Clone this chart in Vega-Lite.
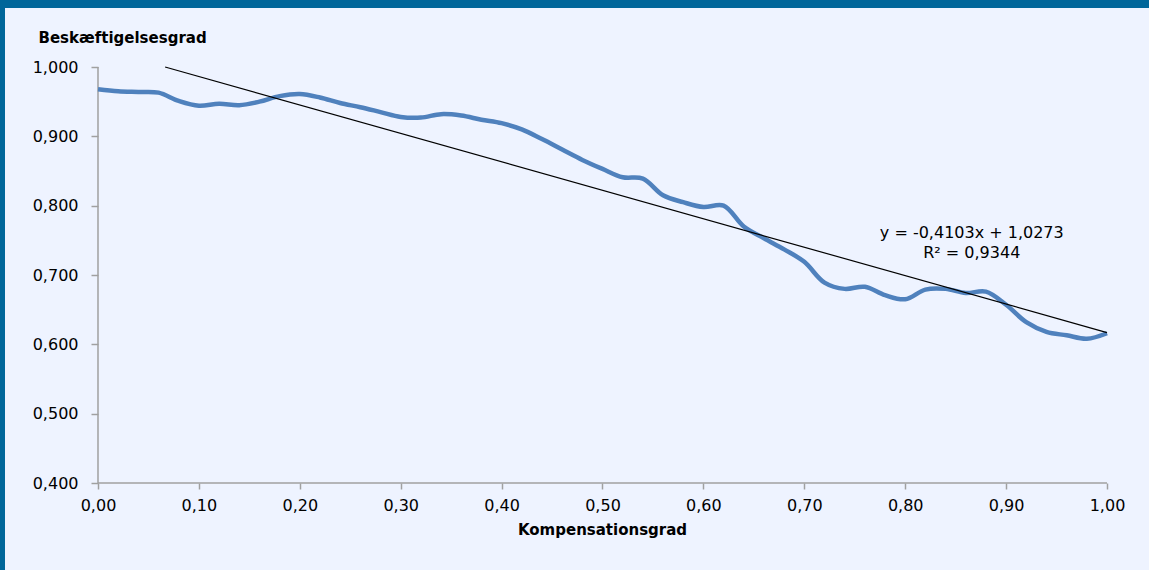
{
  "$schema": "https://vega.github.io/schema/vega-lite/v6.json",
  "autosize": {"type": "none"},
  "padding": {"left": 5, "top": 8, "right": 0, "bottom": 0},
  "width": 1144,
  "height": 562,
  "background": "#00669A",
  "view": {"fill": "#EEF3FF", "stroke": null},
  "config": {"font": "DejaVu Sans"},
  "datasets": {
    "series": [
      {"k": 0.00, "b": 0.968}, {"k": 0.02, "b": 0.965}, {"k": 0.04, "b": 0.964}, {"k": 0.06, "b": 0.963},
      {"k": 0.08, "b": 0.951}, {"k": 0.10, "b": 0.944}, {"k": 0.12, "b": 0.947}, {"k": 0.14, "b": 0.945},
      {"k": 0.16, "b": 0.950}, {"k": 0.18, "b": 0.958}, {"k": 0.20, "b": 0.961}, {"k": 0.22, "b": 0.956},
      {"k": 0.24, "b": 0.948}, {"k": 0.26, "b": 0.942}, {"k": 0.28, "b": 0.935}, {"k": 0.30, "b": 0.928},
      {"k": 0.32, "b": 0.927}, {"k": 0.34, "b": 0.932}, {"k": 0.36, "b": 0.930}, {"k": 0.38, "b": 0.924},
      {"k": 0.40, "b": 0.919}, {"k": 0.42, "b": 0.910}, {"k": 0.44, "b": 0.896}, {"k": 0.46, "b": 0.881},
      {"k": 0.48, "b": 0.866}, {"k": 0.50, "b": 0.853}, {"k": 0.52, "b": 0.841}, {"k": 0.54, "b": 0.839},
      {"k": 0.56, "b": 0.815}, {"k": 0.58, "b": 0.805}, {"k": 0.60, "b": 0.798}, {"k": 0.62, "b": 0.800},
      {"k": 0.64, "b": 0.770}, {"k": 0.66, "b": 0.753}, {"k": 0.68, "b": 0.737}, {"k": 0.70, "b": 0.719},
      {"k": 0.72, "b": 0.689}, {"k": 0.74, "b": 0.680}, {"k": 0.76, "b": 0.683}, {"k": 0.78, "b": 0.671},
      {"k": 0.80, "b": 0.665}, {"k": 0.82, "b": 0.679}, {"k": 0.84, "b": 0.680}, {"k": 0.86, "b": 0.674},
      {"k": 0.88, "b": 0.676}, {"k": 0.90, "b": 0.657}, {"k": 0.92, "b": 0.632}, {"k": 0.94, "b": 0.618},
      {"k": 0.96, "b": 0.613}, {"k": 0.98, "b": 0.608}, {"k": 1.00, "b": 0.616}
    ],
    "trend": [
      {"k": 0.0665, "b": 1.0},
      {"k": 1.0, "b": 0.617}
    ],
    "axislines": [
      {"k": 0, "k2": 0, "b": 0.4, "b2": 1.0},
      {"k": 0, "k2": 1, "b": 0.4, "b2": 0.4}
    ],
    "notes": [
      {"k": 0.866, "b": 0.7534, "label": "y = -0,4103x + 1,0273"},
      {"k": 0.866, "b": 0.7245, "label": "R² = 0,9344"}
    ]
  },
  "layer": [
    {
      "data": {"name": "axislines"},
      "mark": {"type": "rule", "color": "#A0A0A0", "strokeWidth": 1.5},
      "encoding": {
        "x": {
          "field": "k", "type": "quantitative",
          "scale": {"domain": [-0.09217, 1.04163], "nice": false, "zero": false},
          "axis": {
            "values": [0, 0.1, 0.2, 0.3, 0.4, 0.5, 0.6, 0.7, 0.8, 0.9, 1.0],
            "labelExpr": "replace(format(datum.value, '.2f'), '.', ',')",
            "offset": -87,
            "domain": false,
            "grid": false,
            "ticks": true,
            "tickSize": 6,
            "tickColor": "#A0A0A0",
            "tickWidth": 1.5,
            "labelPadding": 8,
            "labelFont": "DejaVu Sans",
            "labelFontSize": 16,
            "labelColor": "#000000",
            "title": "Kompensationsgrad",
            "titleFont": "DejaVu Sans",
            "titleFontSize": 15,
            "titleFontWeight": "bold",
            "titleColor": "#000000",
            "titleAlign": "center",
            "titleBaseline": "alphabetic",
            "titleX": 597,
            "titleY": 51
          }
        },
        "x2": {"field": "k2"},
        "y": {
          "field": "b", "type": "quantitative",
          "scale": {"domain": [0.27452, 1.0851], "nice": false, "zero": false},
          "axis": {
            "values": [0.4, 0.5, 0.6, 0.7, 0.8, 0.9, 1.0],
            "labelExpr": "replace(format(datum.value, '.3f'), '.', ',')",
            "offset": -93,
            "domain": false,
            "grid": false,
            "ticks": true,
            "tickSize": 7,
            "tickColor": "#A0A0A0",
            "tickWidth": 1.5,
            "labelPadding": 13,
            "labelFont": "DejaVu Sans",
            "labelFontSize": 16,
            "labelColor": "#000000",
            "labelBaseline": "middle",
            "title": "Beskæftigelsesgrad",
            "titleFont": "DejaVu Sans",
            "titleFontSize": 15,
            "titleFontWeight": "bold",
            "titleColor": "#000000",
            "titleAngle": 0,
            "titleAlign": "left",
            "titleBaseline": "alphabetic",
            "titleX": -60,
            "titleY": 34
          }
        },
        "y2": {"field": "b2"}
      }
    },
    {
      "data": {"name": "series"},
      "mark": {"type": "line", "color": "#4F81BD", "strokeWidth": 4.5, "interpolate": "catmull-rom"},
      "encoding": {
        "x": {"field": "k", "type": "quantitative"},
        "y": {"field": "b", "type": "quantitative"}
      }
    },
    {
      "data": {"name": "trend"},
      "mark": {"type": "line", "color": "#000000", "strokeWidth": 1.2},
      "encoding": {
        "x": {"field": "k", "type": "quantitative"},
        "y": {"field": "b", "type": "quantitative"}
      }
    },
    {
      "data": {"name": "notes"},
      "mark": {"type": "text", "align": "center", "baseline": "alphabetic", "font": "DejaVu Sans", "fontSize": 16, "color": "#000000"},
      "encoding": {
        "x": {"field": "k", "type": "quantitative"},
        "y": {"field": "b", "type": "quantitative"},
        "text": {"field": "label"}
      }
    }
  ]
}
